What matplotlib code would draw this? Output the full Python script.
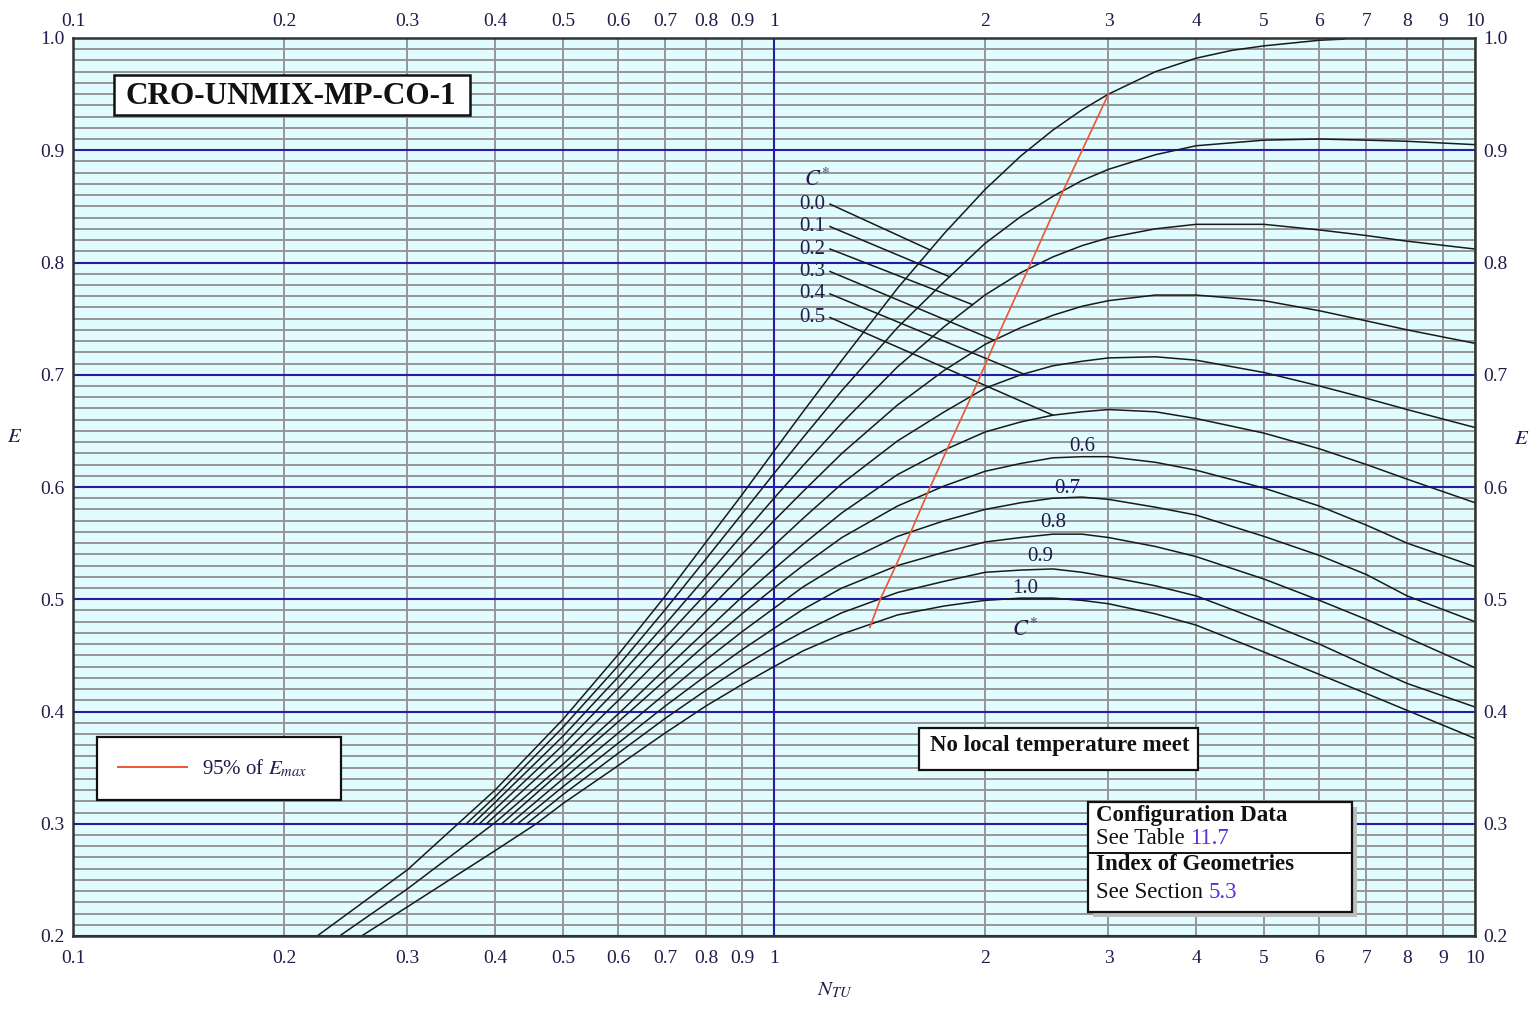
import numpy as np
import matplotlib
matplotlib.use("Agg")
import matplotlib.pyplot as plt
from matplotlib.patches import Rectangle
from matplotlib.lines import Line2D
from matplotlib.transforms import ScaledTranslation

plt.rcParams['font.family'] = ['Liberation Serif', 'DejaVu Serif']
plt.rcParams['mathtext.fontset'] = 'stix'

# ---------------- data ----------------
cstar_values = [0.0, 0.1, 0.2, 0.3, 0.4, 0.5, 0.6, 0.7, 0.8, 0.9, 1.0]

ntu_c00 = [0.223, 0.3, 0.4, 0.5, 0.6, 0.7, 0.8, 0.9, 1.0, 1.1, 1.25, 1.5, 1.75, 2.0, 2.25, 2.5, 2.75, 3.0, 3.5, 4, 4.5, 5, 6, 6.5]
e_c00 = [0.200, 0.259, 0.330, 0.393, 0.451, 0.503, 0.551, 0.593, 0.632, 0.667, 0.713, 0.777, 0.826, 0.865, 0.895, 0.918, 0.936, 0.950, 0.970, 0.982, 0.989, 0.993, 0.998, 0.999]

ntu_c01 = [0.364, 0.4, 0.5, 0.6, 0.7, 0.8, 0.9, 1.0, 1.1, 1.25, 1.5, 1.75, 2.0, 2.25, 2.5, 2.75, 3.0, 3.5, 4, 5, 6, 7, 8, 10]
e_c01 = [0.300, 0.324, 0.386, 0.441, 0.491, 0.536, 0.576, 0.612, 0.644, 0.686, 0.742, 0.783, 0.817, 0.841, 0.859, 0.873, 0.883, 0.896, 0.904, 0.909, 0.910, 0.909, 0.908, 0.905]

ntu_c02 = [0.372, 0.4, 0.5, 0.6, 0.7, 0.8, 0.9, 1.0, 1.1, 1.25, 1.5, 1.75, 2.0, 2.25, 2.5, 2.75, 3.0, 3.5, 4, 5, 6, 7, 8, 10]
e_c02 = [0.300, 0.319, 0.378, 0.431, 0.478, 0.520, 0.557, 0.590, 0.619, 0.657, 0.707, 0.743, 0.771, 0.791, 0.805, 0.815, 0.822, 0.830, 0.834, 0.834, 0.829, 0.824, 0.819, 0.812]

ntu_c03 = [0.380, 0.4, 0.5, 0.6, 0.7, 0.8, 0.9, 1.0, 1.1, 1.25, 1.5, 1.75, 2.0, 2.25, 2.5, 2.75, 3.0, 3.5, 4, 5, 6, 7, 8, 10]
e_c03 = [0.300, 0.313, 0.370, 0.421, 0.466, 0.505, 0.540, 0.570, 0.596, 0.630, 0.673, 0.704, 0.727, 0.742, 0.753, 0.761, 0.766, 0.771, 0.771, 0.766, 0.757, 0.748, 0.740, 0.728]

ntu_c04 = [0.389, 0.4, 0.5, 0.6, 0.7, 0.8, 0.9, 1.0, 1.1, 1.25, 1.5, 1.75, 2.0, 2.25, 2.5, 2.75, 3.0, 3.5, 4, 5, 6, 7, 8, 10]
e_c04 = [0.300, 0.307, 0.362, 0.410, 0.452, 0.489, 0.521, 0.548, 0.572, 0.603, 0.641, 0.667, 0.688, 0.700, 0.708, 0.712, 0.715, 0.716, 0.713, 0.702, 0.690, 0.679, 0.669, 0.653]

ntu_c05 = [0.240, 0.3, 0.4, 0.5, 0.6, 0.7, 0.8, 0.9, 1.0, 1.1, 1.25, 1.5, 1.75, 2.0, 2.25, 2.5, 2.75, 3.0, 3.5, 4, 5, 6, 7, 8, 10]
e_c05 = [0.200, 0.242, 0.301, 0.353, 0.398, 0.438, 0.472, 0.502, 0.527, 0.549, 0.577, 0.611, 0.633, 0.649, 0.658, 0.664, 0.667, 0.669, 0.667, 0.661, 0.648, 0.634, 0.620, 0.607, 0.586]

ntu_c06 = [0.409, 0.5, 0.6, 0.7, 0.8, 0.9, 1.0, 1.1, 1.25, 1.5, 1.75, 2.0, 2.25, 2.5, 2.75, 3.0, 3.5, 4, 5, 6, 7, 8, 10]
e_c06 = [0.300, 0.348, 0.391, 0.428, 0.460, 0.487, 0.510, 0.530, 0.555, 0.583, 0.601, 0.614, 0.621, 0.626, 0.627, 0.627, 0.622, 0.615, 0.599, 0.583, 0.566, 0.550, 0.529]

ntu_c07 = [0.420, 0.5, 0.6, 0.7, 0.8, 0.9, 1.0, 1.1, 1.25, 1.5, 1.75, 2.0, 2.25, 2.5, 2.75, 3.0, 3.5, 4, 5, 6, 7, 8, 10]
e_c07 = [0.300, 0.340, 0.381, 0.416, 0.446, 0.471, 0.492, 0.511, 0.532, 0.556, 0.570, 0.580, 0.586, 0.590, 0.591, 0.589, 0.582, 0.575, 0.556, 0.539, 0.522, 0.503, 0.480]

ntu_c08 = [0.431, 0.5, 0.6, 0.7, 0.8, 0.9, 1.0, 1.1, 1.25, 1.5, 1.75, 2.0, 2.25, 2.5, 2.75, 3.0, 3.5, 4, 5, 6, 7, 8, 10]
e_c08 = [0.300, 0.333, 0.372, 0.405, 0.432, 0.455, 0.474, 0.491, 0.510, 0.530, 0.542, 0.551, 0.555, 0.558, 0.558, 0.555, 0.547, 0.538, 0.518, 0.499, 0.482, 0.466, 0.439]

ntu_c09 = [0.444, 0.5, 0.6, 0.7, 0.8, 0.9, 1.0, 1.1, 1.25, 1.5, 1.75, 2.0, 2.25, 2.5, 2.75, 3.0, 3.5, 4, 5, 6, 7, 8, 10]
e_c09 = [0.300, 0.326, 0.363, 0.394, 0.419, 0.440, 0.457, 0.471, 0.488, 0.506, 0.516, 0.524, 0.526, 0.527, 0.524, 0.520, 0.512, 0.503, 0.480, 0.460, 0.441, 0.425, 0.404]

ntu_c10 = [0.258, 0.3, 0.4, 0.458, 0.5, 0.6, 0.7, 0.8, 0.9, 1.0, 1.1, 1.25, 1.5, 1.75, 2.0, 2.25, 2.5, 2.75, 3.0, 3.5, 4, 5, 6, 7, 8, 10]
e_c10 = [0.200, 0.226, 0.276, 0.300, 0.318, 0.352, 0.381, 0.405, 0.424, 0.440, 0.454, 0.469, 0.486, 0.494, 0.499, 0.501, 0.501, 0.499, 0.496, 0.487, 0.477, 0.453, 0.433, 0.416, 0.401, 0.376]

# 95 % of E_max locus (from C*=1.0 up to C*=0.0)
ntu_95 = [1.37, 1.42, 1.49, 1.57, 1.66, 1.77, 1.91, 2.08, 2.30, 2.59, 3.0]
e_95 = [0.475, 0.501, 0.529, 0.561, 0.596, 0.635, 0.680, 0.733, 0.793, 0.865, 0.950]

# label annotations
upper_labels = ['0.0', '0.1', '0.2', '0.3', '0.4', '0.5']
upper_label_e = [0.852, 0.832, 0.812, 0.792, 0.772, 0.751]
upper_leader_end_ntu = [1.67, 1.78, 1.92, 2.06, 2.27, 2.50]
lower_labels = ['0.6', '0.7', '0.8', '0.9', '1.0']
lower_label_ntu = [2.75, 2.62, 2.50, 2.40, 2.28]
lower_label_e = [0.636, 0.599, 0.568, 0.538, 0.510]

x_ticks = [0.1, 0.2, 0.3, 0.4, 0.5, 0.6, 0.7, 0.8, 0.9, 1, 2, 3, 4, 5, 6, 7, 8, 9, 10]
x_tick_labels = ['0.1', '0.2', '0.3', '0.4', '0.5', '0.6', '0.7', '0.8', '0.9',
                 '1', '2', '3', '4', '5', '6', '7', '8', '9', '10']
y_ticks = [0.2, 0.3, 0.4, 0.5, 0.6, 0.7, 0.8, 0.9, 1.0]
y_tick_labels = ['0.2', '0.3', '0.4', '0.5', '0.6', '0.7', '0.8', '0.9', '1.0']

curves = [(ntu_c00, e_c00), (ntu_c01, e_c01), (ntu_c02, e_c02), (ntu_c03, e_c03),
          (ntu_c04, e_c04), (ntu_c05, e_c05), (ntu_c06, e_c06), (ntu_c07, e_c07),
          (ntu_c08, e_c08), (ntu_c09, e_c09), (ntu_c10, e_c10)]

# ---------------- styling ----------------
W, H = 1537, 1009
BG = '#e0fcfe'
GRID_GRAY = '#969696'
BLUE = '#2a1aa8'
LABEL_COL = '#221a4a'
RED = '#ee5533'

fig = plt.figure(figsize=(W / 100, H / 100), dpi=100)
fig.patch.set_facecolor('white')


def fx(px):
    return px / W


def fy(py):
    return 1 - py / H


ax = fig.add_axes([fx(73), fy(936), fx(1475) - fx(73), fy(38) - fy(936)])
ax.set_facecolor(BG)
ax.set_xscale('log')
ax.set_xlim(0.1, 10)
ax.set_ylim(0.2, 1.0)

ax.set_xticks(x_ticks)
ax.set_xticklabels(x_tick_labels)
ax.xaxis.set_minor_locator(matplotlib.ticker.NullLocator())
ax.set_yticks(y_ticks)
ax.set_yticklabels(y_tick_labels)
ax.set_yticks(np.round(np.arange(0.2, 1.0001, 0.01), 2), minor=True)
ax.tick_params(which='both', length=0, labelsize=14, labelcolor=LABEL_COL,
               top=True, right=True, labeltop=True, labelright=True)
ax.tick_params(axis='x', pad=10)
ax.tick_params(axis='y', pad=6)

# grid
ax.grid(which='minor', axis='y', color=GRID_GRAY, lw=1.4, zorder=1)
ax.grid(which='major', axis='x', color=GRID_GRAY, lw=1.4, zorder=1)
for yv in y_ticks:
    ax.axhline(yv, color=BLUE, lw=1.5, zorder=1.5)
ax.axvline(1.0, color=BLUE, lw=1.5, zorder=1.5)
ax.set_axisbelow(True)

for sp in ax.spines.values():
    sp.set_color('#333333')
    sp.set_linewidth(1.8)
    sp.set_zorder(5)

# curves
for n, e in curves:
    ax.plot(n, e, color='#1a1a1a', lw=1.1, zorder=3, solid_joinstyle='round')

# 95 % line
ax.plot(ntu_95, e_95, color=RED, lw=1.2, zorder=4)

# upper labels with leaders
label_ntu = 1.133
leader_start_ntu = 1.202
for i, lab in enumerate(upper_labels):
    ax.text(label_ntu, upper_label_e[i], lab, fontsize=15, color=LABEL_COL,
            ha='center', va='center', zorder=6)
    n, e = curves[i]
    y_end = np.interp(np.log10(upper_leader_end_ntu[i]), np.log10(n), e)
    ax.plot([leader_start_ntu, upper_leader_end_ntu[i]], [upper_label_e[i], y_end],
            color='#1a1a1a', lw=1.1, zorder=3)
ax.text(1.152, 0.8735, r'$C^{*}$', fontsize=16, color=LABEL_COL,
        ha='center', va='center', zorder=6)

for i, lab in enumerate(lower_labels):
    ax.text(lower_label_ntu[i], lower_label_e[i], lab, fontsize=15, color=LABEL_COL,
            ha='center', va='center', zorder=6)
ax.text(2.28, 0.4726, r'$C^{*}$', fontsize=16, color=LABEL_COL,
        ha='center', va='center', zorder=6)

# axis labels
fig.text(fx(15), fy(437), r'$E$', fontsize=15, color=LABEL_COL, ha='center', va='center')
fig.text(fx(1522), fy(440), r'$E$', fontsize=15, color=LABEL_COL, ha='center', va='center')
fig.text(fx(835), fy(990), r'$N_{TU}$', fontsize=15, color=LABEL_COL, ha='center', va='center')


def box(x0, y0, x1, y1, lw=1.6, shadow=False):
    if shadow:
        fig.patches.append(Rectangle((fx(x0 + 5), fy(y1 + 5)), fx(x1) - fx(x0), fy(y0) - fy(y1),
                                     transform=fig.transFigure, facecolor='#bdbdbd',
                                     edgecolor='none', zorder=9))
    fig.patches.append(Rectangle((fx(x0), fy(y1)), fx(x1) - fx(x0), fy(y0) - fy(y1),
                                 transform=fig.transFigure, facecolor='white',
                                 edgecolor='#111111', lw=lw, zorder=10))


# title box
box(114, 75, 470, 115, lw=1.8)
fig.text(fx(291), fy(96), 'CRO-UNMIX-MP-CO-1', fontsize=22.5, fontweight='bold',
         color='#111111', ha='center', va='center', zorder=11)

# legend box
box(97, 737, 341, 800)
fig.lines.append(Line2D([fx(118), fx(187)], [fy(767), fy(767)], color=RED, lw=1.4,
                        transform=fig.transFigure, zorder=11))
fig.text(fx(202), fy(768), r'95% of $E_{max}$', fontsize=15, color=LABEL_COL,
         ha='left', va='center', zorder=11)

# no local temperature meet
box(919, 728, 1198, 770)
fig.text(fx(930), fy(745), 'No local temperature meet', fontsize=16.5, fontweight='bold',
         color='#111111', ha='left', va='center', zorder=11)

# configuration box
box(1088, 802, 1352, 912, shadow=True)
fig.lines.append(Line2D([fx(1088), fx(1352)], [fy(853), fy(853)], color='#111111', lw=1.4,
                        transform=fig.transFigure, zorder=11))
FS = 16.5
fig.text(fx(1096), fy(815), 'Configuration Data', fontsize=FS, fontweight='bold',
         color='#111111', ha='left', va='center', zorder=11)
t1 = fig.text(fx(1096), fy(838), 'See Table ', fontsize=FS, color='#111111',
              ha='left', va='center', zorder=11)
fig.text(fx(1096), fy(864), 'Index of Geometries', fontsize=FS, fontweight='bold',
         color='#111111', ha='left', va='center', zorder=11)
t2 = fig.text(fx(1096), fy(892), 'See Section ', fontsize=FS, color='#111111',
              ha='left', va='center', zorder=11)
fig.canvas.draw()
r = fig.canvas.get_renderer()
bb1 = t1.get_window_extent(r)
bb2 = t2.get_window_extent(r)
fig.text(bb1.x1 / W, fy(838), '11.7', fontsize=FS, color='#5b2be0',
         ha='left', va='center', zorder=11)
fig.text(bb2.x1 / W, fy(892), '5.3', fontsize=FS, color='#5b2be0',
         ha='left', va='center', zorder=11)

# move the top tick labels closer to the frame
shift = ScaledTranslation(0, -6 / 100, fig.dpi_scale_trans)
for tk in ax.xaxis.get_major_ticks():
    tk.label2.set_transform(tk.label2.get_transform() + shift)

fig.savefig('out.png', dpi=100, facecolor='white')
